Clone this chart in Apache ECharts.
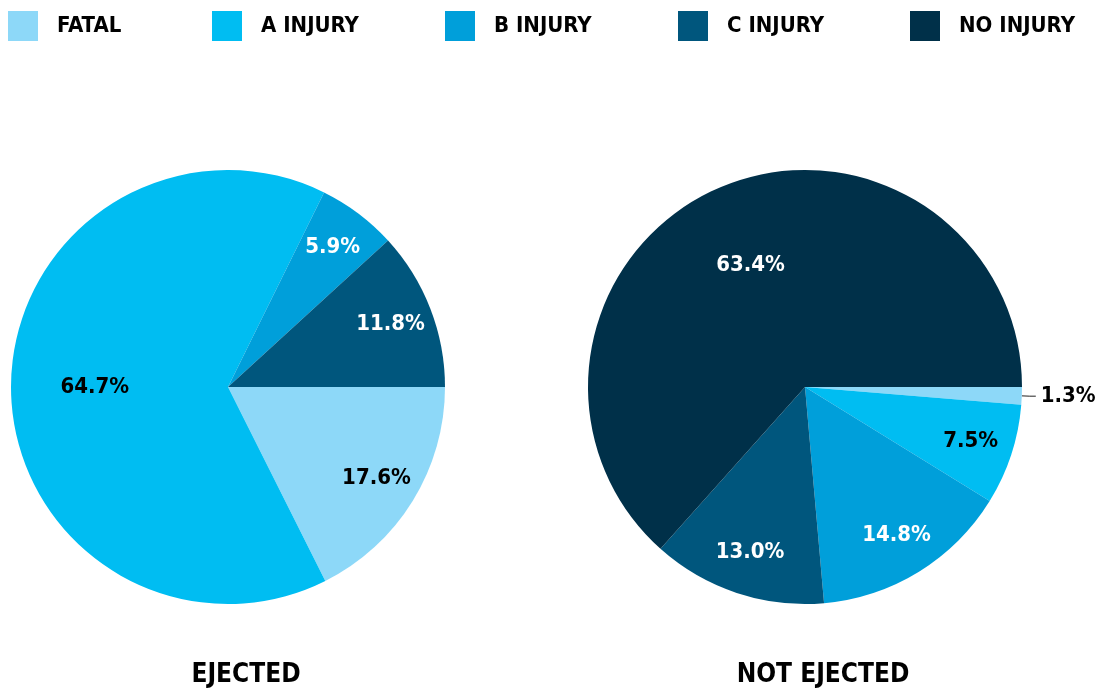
<!DOCTYPE html>
<html>
<head>
<meta charset="utf-8">
<script src="https://cdn.jsdelivr.net/npm/echarts@6/dist/echarts.min.js"></script>
<style>
  html, body { margin: 0; padding: 0; background: #fff; }
  #chart { width: 1098px; height: 690px; }
</style>
</head>
<body>
<div id="chart"></div>
<script>
// data
const categories = ['FATAL', 'A INJURY', 'B INJURY', 'C INJURY', 'NO INJURY']
const ejected = [17.6, 64.7, 5.9, 11.8, 0]
const notEjected = [1.3, 7.5, 14.8, 13.0, 63.4]
const pieTitles = ['EJECTED', 'NOT EJECTED']

// styling
const colors = ['#8dd8f8', '#00bdf2', '#009fda', '#00567d', '#003049']
const labelColors = ['#000', '#000', '#fff', '#fff', '#fff']
const legendLefts = [8, 212, 445, 678, 910]
const FONT = '"Liberation Sans Narrow", "DejaVu Sans Condensed", sans-serif'
const R = 217
const centers = [[228, 387], [805, 387]]

const chart = echarts.init(document.getElementById('chart'))

function pct(p) {
  return p.value.toFixed(1) + '%'
}

// which label group a value belongs to
function group(v) {
  if (v <= 0) return 'none'
  if (v < 3) return 'outside'
  if (v < 50) return 'small'
  return 'large'
}

function buildItems(values, which) {
  return values.map((v, i) => ({
    name: categories[i],
    value: v,
    itemStyle: { color: which === 'main' ? colors[i] : 'rgba(0,0,0,0)' },
    label: {
      show: group(v) === which || (which === 'main' && group(v) === 'outside'),
      color: which === 'main' ? '#000' : labelColors[i]
    }
  }))
}

function pieSeries(values, center) {
  const base = {
    type: 'pie',
    center: center,
    startAngle: 0,
    clockwise: true,
    legendHoverLink: false,
    emphasis: { disabled: true },
    label: {
      fontFamily: FONT,
      fontWeight: 'bold',
      fontSize: 22,
      overflow: 'none'
    }
  }
  return [
    // visible pie, only tiny slices get an outside label
    Object.assign({}, base, {
      radius: [0, R],
      data: buildItems(values, 'main'),
      label: Object.assign({}, base.label, {
        position: 'outside',
        formatter: pct,
        distanceToLabelLine: 5
      }),
      labelLine: { length: 8, length2: 6, lineStyle: { color: '#222', width: 1 } }
    }),
    // transparent ring to place labels of smaller slices
    Object.assign({}, base, {
      silent: true,
      radius: [R * 0.58, R],
      data: buildItems(values, 'small'),
      label: Object.assign({}, base.label, { position: 'inside', formatter: pct })
    }),
    // transparent ring for the big slice label
    Object.assign({}, base, {
      silent: true,
      radius: [R * 0.2, R],
      data: buildItems(values, 'large'),
      label: Object.assign({}, base.label, { position: 'inside', formatter: pct })
    })
  ]
}

const option = {
  backgroundColor: '#fff',
  animation: false,
  title: pieTitles.map((t, i) => ({
    text: t,
    left: centers[i][0] + 18,
    top: 662,
    padding: 0,
    textAlign: 'center',
    textStyle: {
      fontFamily: FONT,
      fontWeight: 'bold',
      fontSize: 26,
      color: '#000'
    }
  })),
  legend: categories.map((c, i) => ({
    left: legendLefts[i],
    top: 11,
    padding: 0,
    itemWidth: 30,
    itemHeight: 30,
    icon: 'rect',
    selectedMode: false,
    data: [{ name: c, itemStyle: { color: colors[i] } }],
    textStyle: {
      fontFamily: FONT,
      fontWeight: 'bold',
      fontSize: 22,
      color: '#000',
      padding: [0, 0, 0, 14]
    }
  })),
  series: [].concat(
    pieSeries(ejected, centers[0]),
    pieSeries(notEjected, centers[1])
  )
}

chart.setOption(option)

window.addEventListener('resize', () => {
  chart && chart.resize()
})
</script>
</body>
</html>
